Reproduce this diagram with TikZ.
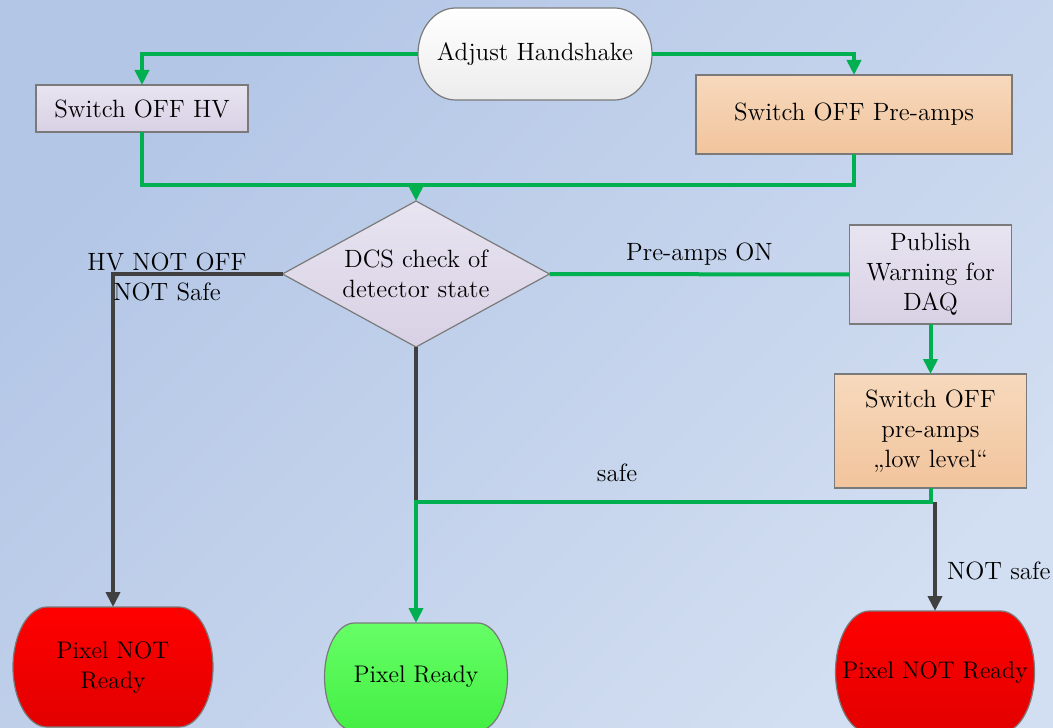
\documentclass[tikz,border=0pt]{standalone}
\usepackage{tikz}
\usetikzlibrary{shapes.geometric,arrows.meta}

\definecolor{bgtop}{HTML}{B3C6E6}
\definecolor{bgbot}{HTML}{D2DEF1}
\definecolor{boxline}{HTML}{7A7A7A}
\definecolor{lilactop}{HTML}{E8E4F0}
\definecolor{lilacbot}{HTML}{D8D1E5}
\definecolor{peachtop}{HTML}{F7D9BD}
\definecolor{peachbot}{HTML}{F1C49C}
\definecolor{termbot}{HTML}{ECECEC}
\definecolor{redtop}{HTML}{FF0000}
\definecolor{redbot}{HTML}{E20000}
\definecolor{greentop}{HTML}{66FF66}
\definecolor{greenbot}{HTML}{44EE44}
\definecolor{flowgreen}{HTML}{00B050}
\definecolor{failgray}{HTML}{404040}

\pgfdeclarelayer{back}
\pgfdeclarelayer{shapes}
\pgfsetlayers{back,shapes,main}

\newcommand{\termoutline}[4]{%
  \begin{pgfonlayer}{shapes}
    \path[#4] ([xshift=#2]#1.north west) -- ([xshift=-#2]#1.north east)
      arc[start angle=90,end angle=-90,x radius=#2,y radius=#3]
      -- ([xshift=#2]#1.south west)
      arc[start angle=270,end angle=90,x radius=#2,y radius=#3] -- cycle;
  \end{pgfonlayer}}

\begin{document}
\begin{tikzpicture}[x=0.5pt,y=-0.5pt,font=\fontsize{12.5}{15}\selectfont]
    \tikzstyle{box}=[rectangle,draw=boxline,line width=0.6pt,inner sep=2pt,outer sep=0pt,align=center]
    \tikzstyle{lilac}=[box,top color=lilactop,bottom color=lilacbot]
    \tikzstyle{peach}=[box,top color=peachtop,bottom color=peachbot]
    \tikzstyle{term}=[rectangle,inner sep=0pt,outer sep=0pt,align=center]
    \tikzstyle{result}=[term,font=\fontsize{12}{15}\selectfont]
    \tikzstyle{check}=[diamond,aspect=1.83,draw=boxline,line width=0.6pt,inner sep=0pt,outer sep=0pt,align=center,top color=lilactop,bottom color=lilacbot]
    \tikzstyle{outline}=[draw=boxline,line width=0.6pt]
    \tikzstyle{flow}=[draw=flowgreen,line width=2pt]
    \tikzstyle{fail}=[draw=failgray,line width=2pt]
    \tikzstyle{tip}=[-{Triangle[length=7.5pt,width=7pt]}]

    \begin{pgfonlayer}{back}
        \path[top color=bgtop,bottom color=bgbot,shading angle=45] (0,0) rectangle (1053,727);
    \end{pgfonlayer}
    \useasboundingbox (0,0) rectangle (1053,727);

    \node[term,minimum width=117pt,minimum height=46pt] (hs) at (535,54) {Adjust Handshake};
    \node[lilac,minimum width=106pt,minimum height=23.5pt] (hv) at (142,108.5) {Switch OFF HV};
    \node[peach,minimum width=158pt,minimum height=39.5pt] (pre) at (854,114.5) {Switch OFF Pre-amps};
    \node[check,minimum width=133.5pt,minimum height=73pt] (dcs) at (416,274) {DCS check of\\detector state};
    \node[lilac,minimum width=81pt,minimum height=49.5pt] (pub) at (930.5,274.5) {Publish\\Warning for\\DAQ};
    \node[peach,minimum width=96pt,minimum height=57pt] (low) at (930.5,431) {Switch OFF\\pre-amps\\„low level“};
    \node[result,minimum width=100pt,minimum height=60pt] (bad1) at (113,667) {Pixel NOT\\Ready};
    \node[result,minimum width=91.5pt,minimum height=54pt] (ok) at (416,677) {Pixel Ready};
    \node[result,minimum width=99.5pt,minimum height=61pt] (bad2) at (935,672) {Pixel NOT Ready};

    \termoutline{hs}{18.8pt}{23pt}{outline,top color=white,bottom color=termbot}
    \termoutline{bad1}{17pt}{30pt}{outline,top color=redtop,bottom color=redbot}
    \termoutline{ok}{15pt}{27pt}{outline,top color=greentop,bottom color=greenbot}
    \termoutline{bad2}{17pt}{30.5pt}{outline,top color=redtop,bottom color=redbot}

    \coordinate (merge) at (416,185);
    \coordinate (safe) at (416,502);
    \coordinate (unsafe) at (935,502);

    \draw[flow,tip] (hs.west) -| (hv.north);
    \draw[flow,tip] (hs.east) -| (pre.north);
    \draw[flow] (hv.south) |- (merge);
    \draw[flow] (pre.south) |- (merge);
    \draw[flow,tip] (merge) -- (dcs.north);
    \draw[flow] (dcs.east) -- node[above] (onlbl) {Pre-amps ON} (pub.west);
    \draw[flow,tip] (pub.south) -- (low.north);

    \draw[fail,tip] (dcs.west) -| (bad1.north);
    \draw[fail] (dcs.south) -- (safe);
    \draw[fail,tip] (unsafe) -- (bad2.north);
    \draw[flow,tip] (low.south) |- (safe) -- (ok.north);

    \node[align=center] (hvlbl) at (167,277) {HV NOT OFF\\NOT Safe};
    \node (safelbl) at (617,473) {safe};
    \node[anchor=west] (unsafelbl) at (940,571) {NOT safe};
\end{tikzpicture}
\end{document}
